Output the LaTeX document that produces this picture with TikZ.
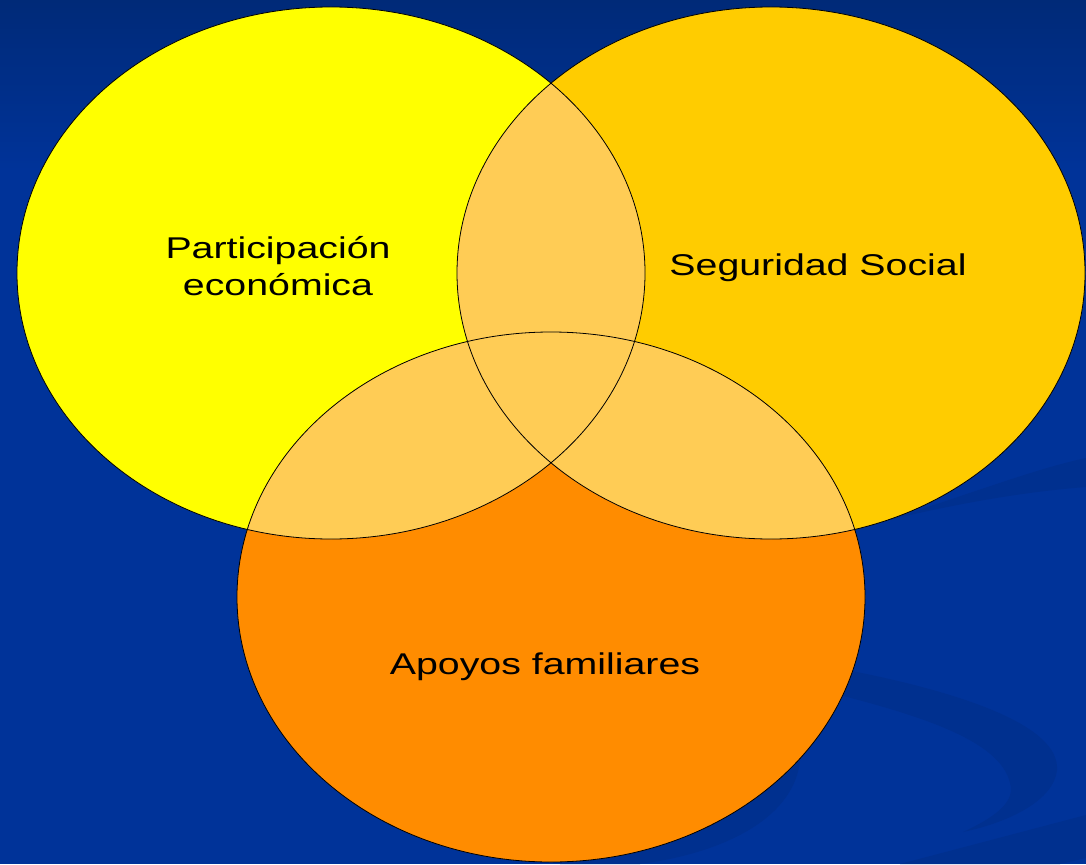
\documentclass[tikz,border=0pt]{standalone}
\usepackage{fontspec}
\setmainfont{Liberation Sans}
\definecolor{bgblue}{HTML}{003399}
\definecolor{bgtop}{HTML}{002A78}
\definecolor{swoosh}{HTML}{00308F}
\definecolor{setA}{HTML}{FFFF00}
\definecolor{setB}{HTML}{FFCC00}
\definecolor{setC}{HTML}{FF8C00}
\definecolor{lens}{HTML}{FFCC55}
\def\ellA{(331,273) ellipse [x radius=314pt,y radius=266pt]}
\def\ellB{(771,273) ellipse [x radius=314pt,y radius=266pt]}
\def\ellC{(551,597) ellipse [x radius=314pt,y radius=265pt]}
\begin{document}
\begin{tikzpicture}[x=1pt,y=-1pt,
                    rim/.style={draw=black,line width=0.8pt},
                    setname/.style={font=\fontsize{30}{36.7}\selectfont,xscale=1.31,
                                    align=center,inner sep=0pt}]
\useasboundingbox (0,0) rectangle (1086,864);

% background
\fill[bgblue] (0,0) rectangle (1086,864);
\shade[top color=bgtop,bottom color=bgblue] (0,0) rectangle (1086,170);
\fill[swoosh] (880,522) .. controls (960,498) and (1030,470) .. (1086,458)
              -- (1086,487) .. controls (1020,492) and (950,505) .. (880,522) -- cycle;
\fill[swoosh] (820,665) .. controls (960,690) and (1060,725) .. (1057,770)
              .. controls (1054,800) and (1010,822) .. (963,832)
              .. controls (1000,815) and (1015,800) .. (1010,783)
              .. controls (1000,740) and (920,715) .. (820,690) -- cycle;
\fill[swoosh] (900,864) -- (1086,815) -- (1086,858) -- (1060,864) -- cycle;
\fill[swoosh] (800,760) .. controls (795,815) and (730,852) .. (640,864)
              -- (560,864) -- (560,760) -- cycle;

% the three sets
\fill[setA] \ellA;
\fill[setB] \ellB;
\fill[setC] \ellC;
\begin{scope}
  \clip \ellA;
  \fill[lens] \ellB;
  \fill[lens] \ellC;
\end{scope}
\begin{scope}
  \clip \ellB;
  \fill[lens] \ellC;
\end{scope}
\draw[rim] \ellA \ellB \ellC;

\node[setname] (econ)   at (278,266)   {Participación\\económica};
\node[setname] (social) at (818,268)   {Seguridad Social};
\node[setname] (family) at (545,666.5) {Apoyos familiares};
\end{tikzpicture}
\end{document}
